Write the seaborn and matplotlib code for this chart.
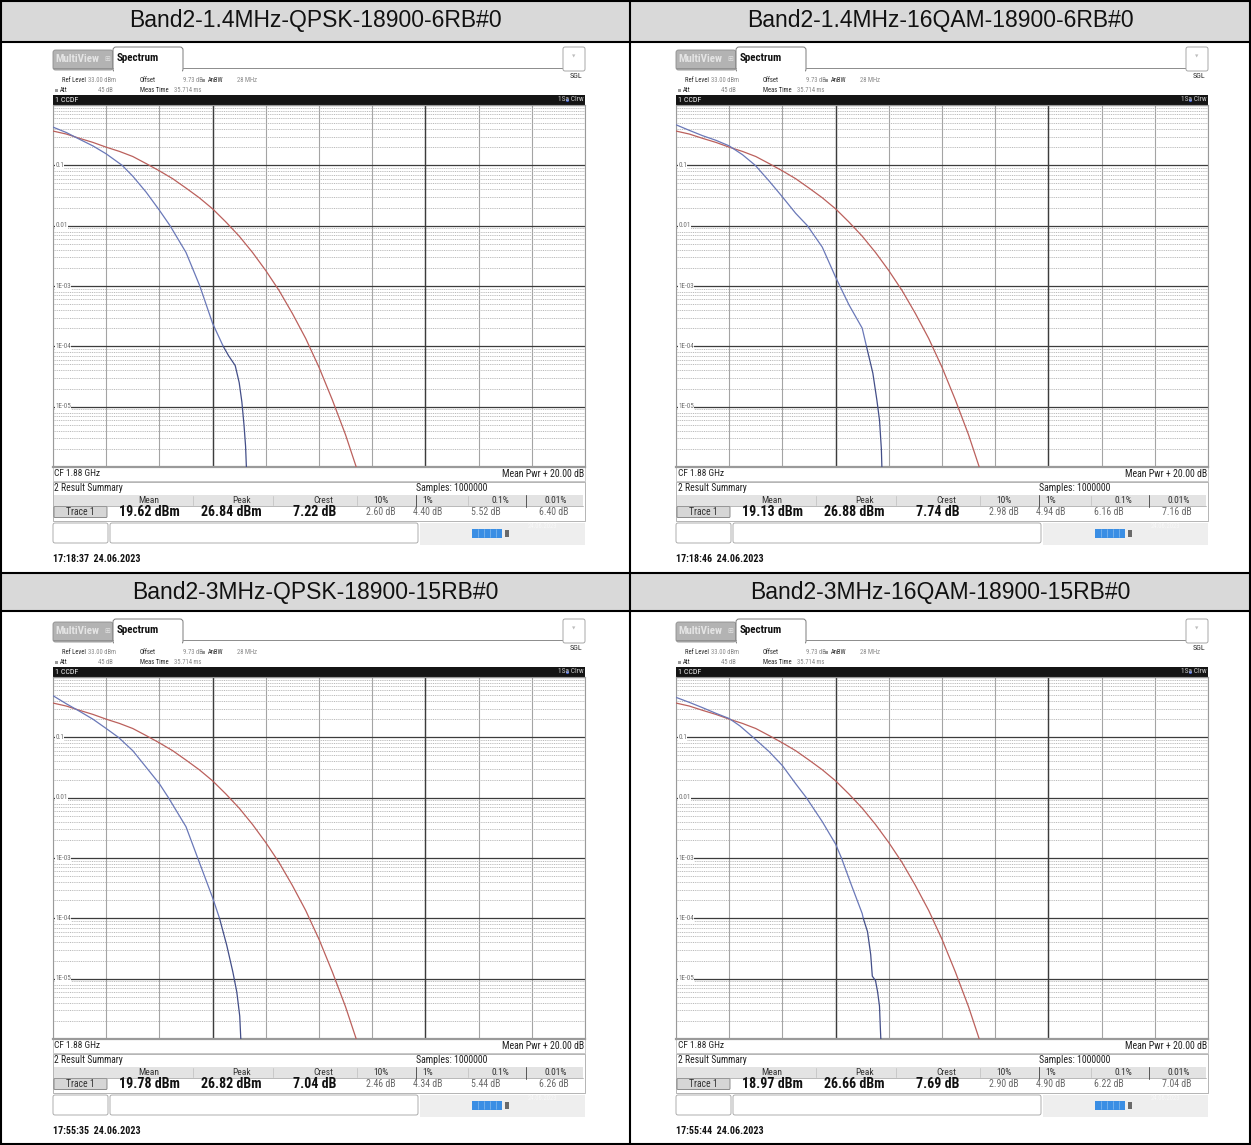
import numpy as np
import pandas as pd
import matplotlib
matplotlib.use("Agg")
import matplotlib.pyplot as plt
import seaborn as sns
from matplotlib import font_manager
from matplotlib.patches import Rectangle, FancyBboxPatch
from matplotlib.ticker import LogLocator, NullFormatter, FixedLocator
from matplotlib.transforms import blended_transform_factory

sns.set_theme(style="white")
plt.rcParams["font.family"] = ["Liberation Sans", "DejaVu Sans"]

# ---------------- chart content ----------------
titles = ["Band2-1.4MHz-QPSK-18900-6RB#0", "Band2-1.4MHz-16QAM-18900-6RB#0",
          "Band2-3MHz-QPSK-18900-15RB#0", "Band2-3MHz-16QAM-18900-15RB#0"]
timestamps = ["17:18:37  24.06.2023", "17:18:46  24.06.2023",
              "17:55:35  24.06.2023", "17:55:44  24.06.2023"]

mean_dbm = [19.62, 19.13, 19.78, 18.97]
peak_dbm = [26.84, 26.88, 26.82, 26.66]
crest_db = [7.22, 7.74, 7.04, 7.69]
p10_db = [2.60, 2.98, 2.46, 2.90]
p1_db = [4.40, 4.94, 4.34, 4.90]
p01_db = [5.52, 6.16, 5.44, 6.22]
p001_db = [6.40, 7.16, 6.26, 7.04]
summary_cols = ["Mean", "Peak", "Crest", "10%", "1%", "0.1%", "0.01%"]
decade_labels = ["0.1", "0.01", "1E-03", "1E-04", "1E-05"]
decade_values = [1e-1, 1e-2, 1e-3, 1e-4, 1e-5]

# Gaussian reference trace (red), shared by all four screens
ref_db = [0.0, 0.5, 1.0, 1.5, 2.0, 2.5, 3.0, 3.5, 4.0, 4.5, 5.0, 5.5,
          6.0, 6.5, 7.0, 7.5, 8.0, 8.5, 9.0, 9.5, 10.0, 10.5, 11.0, 11.4]
ref_ccdf = [0.37, 0.33, 0.28, 0.24, 0.20, 0.17, 0.14, 0.107, 0.081, 0.060, 0.042, 0.029,
            0.019, 0.0115, 0.0067, 0.0036, 0.0018, 8.4e-4, 3.5e-4, 1.35e-4, 4.5e-5, 1.3e-5,
            3.4e-6, 1.0e-6]

# Measured traces (blue)
qpsk14_db = [0.0, 0.5, 1.0, 1.5, 2.0, 2.6, 3.0, 3.5, 4.0, 4.4, 5.0, 5.52, 6.0, 6.4,
             6.6, 6.85, 7.0, 7.1, 7.18, 7.24, 7.27]
qpsk14_ccdf = [0.43, 0.35, 0.27, 0.21, 0.155, 0.10, 0.066, 0.036, 0.018, 0.010, 0.0036,
               0.0010, 2.4e-4, 1.0e-4, 7.0e-5, 4.8e-5, 2.5e-5, 1.2e-5, 5.0e-6, 2.2e-6, 1.0e-6]

qam14_db = [0.0, 0.5, 1.0, 1.5, 2.0, 2.5, 2.98, 3.5, 4.0, 4.5, 4.94, 5.5, 6.0, 6.16,
            6.5, 7.0, 7.16, 7.4, 7.55, 7.65, 7.72, 7.74]
qam14_ccdf = [0.47, 0.38, 0.31, 0.26, 0.21, 0.15, 0.10, 0.055, 0.030, 0.016, 0.010, 0.0044,
              0.0014, 0.0010, 4.9e-4, 2.0e-4, 1.0e-4, 3.6e-5, 1.3e-5, 6.0e-6, 2.0e-6, 1.0e-6]

qpsk3_db = [0.0, 0.5, 1.0, 1.5, 2.0, 2.46, 3.0, 3.5, 4.0, 4.34, 5.0, 5.44, 6.0, 6.26,
            6.53, 6.76, 6.91, 7.02, 7.06]
qpsk3_ccdf = [0.49, 0.36, 0.27, 0.20, 0.14, 0.10, 0.060, 0.032, 0.017, 0.010, 0.0033,
              0.0010, 2.2e-4, 1.0e-4, 3.6e-5, 1.3e-5, 6.0e-6, 2.4e-6, 1.0e-6]

qam3_db = [0.0, 0.5, 1.0, 1.5, 2.0, 2.4, 2.9, 3.5, 4.0, 4.5, 4.9, 5.5, 6.0, 6.22, 6.6,
           7.0, 7.04, 7.2, 7.32, 7.38, 7.5, 7.58, 7.65, 7.68, 7.70]
qam3_ccdf = [0.46, 0.38, 0.31, 0.25, 0.205, 0.155, 0.10, 0.058, 0.034, 0.017, 0.010, 0.0040,
             0.0017, 0.0010, 3.5e-4, 1.2e-4, 1.0e-4, 6.0e-5, 2.5e-5, 1.1e-5, 9.3e-6, 6.0e-6,
             3.5e-6, 1.6e-6, 1.0e-6]

trace_db = [qpsk14_db, qam14_db, qpsk3_db, qam3_db]
trace_ccdf = [qpsk14_ccdf, qam14_ccdf, qpsk3_ccdf, qam3_ccdf]


# ---------------- fonts ----------------
def find_narrow_font():
    candidates = [("Liberation Sans Narrow", "normal", "Narrow"),
                  ("Roboto Condensed", "normal", "Condensed"),
                  ("DejaVu Sans", "condensed", "Condensed"),
                  ("Open Sans Condensed", "normal", "Condensed")]
    for fam, stretch, marker in candidates:
        try:
            path = font_manager.findfont(
                font_manager.FontProperties(family=fam, stretch=stretch),
                fallback_to_default=False)
            if marker.lower() in path.lower():
                return fam, stretch
        except Exception:
            pass
    return None


narrow = find_narrow_font()
if narrow:
    UI, UI_STRETCH = narrow
    GAIN = 1.2
else:
    UI, UI_STRETCH = "Liberation Sans", "normal"
    GAIN = 1.0

# ---------------- canvas in pixel units ----------------
W, H = 1251, 1145
fig = plt.figure(figsize=(W / 100, H / 100), dpi=100)
bg = fig.add_axes([0, 0, 1, 1])
bg.set_xlim(0, W)
bg.set_ylim(H, 0)
bg.axis("off")


def fbox(x0, y0, x1, y1):
    return [x0 / W, 1 - y1 / H, (x1 - x0) / W, (y1 - y0) / H]


def txt(x, y, s, size=4.0, color="#222222", weight="normal", ha="left", family=None, z=5):
    if family is None:
        bg.text(x, y, s, fontsize=size * GAIN, color=color, fontweight=weight, ha=ha,
                va="center", family=UI, fontstretch=UI_STRETCH, zorder=z)
    else:
        bg.text(x, y, s, fontsize=size, color=color, fontweight=weight, ha=ha,
                va="center", family=family, zorder=z)


def rect(x0, y0, x1, y1, fc, ec="none", lw=0.0, z=1):
    bg.add_patch(Rectangle((x0, y0), x1 - x0, y1 - y0, facecolor=fc, edgecolor=ec,
                           linewidth=lw, zorder=z))


def rbox(x0, y0, x1, y1, fc, ec, lw=0.6, r=2.0, z=1):
    bg.add_patch(FancyBboxPatch((x0 + r, y0 + r), x1 - x0 - 2 * r, y1 - y0 - 2 * r,
                                boxstyle=f"round,pad={r}", facecolor=fc, edgecolor=ec,
                                linewidth=lw, zorder=z))


# table frame and header rows
rect(2, 2, 1249, 41, "#d9d9d9", z=0)
rect(2, 574, 1249, 610, "#d9d9d9", z=0)
for yy in [1, 41.5, 573, 611, 1144]:
    bg.plot([0, W], [yy, yy], color="black", lw=1.5, zorder=3, solid_capstyle="butt")
for xx in [1, 630, 1250]:
    bg.plot([xx, xx], [0, H], color="black", lw=1.5, zorder=3, solid_capstyle="butt")

title_pos = [(315, 21), (940, 21), (315, 592), (940, 592)]
for (tx, ty), t in zip(title_pos, titles):
    bg.text(tx, ty, t, fontsize=16.5, ha="center", va="center", color="#111111",
            family="Liberation Sans", zorder=5)

origins = [(0, 0), (623, 0), (0, 572), (623, 572)]

for k, (ox, oy) in enumerate(origins):
    X = lambda v: v + ox
    Y = lambda v: v + oy

    # --- tabs ---
    rbox(X(53), Y(50), X(113), Y(70), "#b3b3b3", "#8c8c8c", lw=0.6, r=2.5, z=2)
    txt(X(55), Y(59), "MultiView", size=6.6, color="#e4e4e4", weight="bold")
    txt(X(104), Y(59), "\u229e", size=5.0, color="#e4e4e4", family="DejaVu Sans")
    rbox(X(113), Y(47), X(183), Y(72), "white", "#7a7a7a", lw=0.7, r=3.0, z=2)
    rect(X(113.6), Y(67), X(182.4), Y(73), "white", z=3)
    txt(X(117), Y(58), "Spectrum", size=6.6, color="#111111", weight="bold")
    bg.plot([X(53), X(113)], [Y(68), Y(68)], color="#8c8c8c", lw=0.6, zorder=3)
    bg.plot([X(183), X(562)], [Y(68), Y(68)], color="#7a7a7a", lw=0.6, zorder=3)
    rbox(X(563), Y(47), X(585), Y(71), "white", "#9a9a9a", lw=0.6, r=2.0, z=2)
    txt(X(574), Y(57), "\u25bc", size=3.2, color="#bdbdbd", ha="center", family="DejaVu Sans")

    # --- settings lines ---
    txt(X(62), Y(80), "Ref Level", color="#2a2a2a")
    txt(X(88), Y(80), "33.00 dBm", color="#8a8a8a")
    txt(X(140), Y(80), "Offset", color="#2a2a2a")
    txt(X(183), Y(80), "9.73 dB", color="#8a8a8a")
    rect(X(202), Y(78.5), X(205), Y(81.5), "#9a9a9a", z=4)
    txt(X(208), Y(80), "AnBW", color="#2a2a2a")
    txt(X(237), Y(80), "28 MHz", color="#8a8a8a")
    rect(X(55), Y(88.5), X(58), Y(91.5), "#9a9a9a", z=4)
    txt(X(60), Y(90), "Att", color="#2a2a2a")
    txt(X(113), Y(90), "45 dB", color="#8a8a8a", ha="right")
    txt(X(140), Y(90), "Meas Time", color="#2a2a2a")
    txt(X(174), Y(90), "35.714 ms", color="#8a8a8a")
    txt(X(582), Y(76), "SGL", color="#2a2a2a", ha="right", size=4.8)

    # --- window title bar ---
    rect(X(53), Y(95), X(585), Y(104.5), "#141414", z=2)
    txt(X(55), Y(99.8), "1 CCDF", color="#f0f0f0", size=4.8)
    bg.scatter([X(567)], [Y(99.8)], s=5, color="#3c5cd0", zorder=5, linewidths=0)
    txt(X(584), Y(99.8), "1Sa Clrw", color="#c8c8c8", size=4.4, ha="right")

    # --- CCDF diagram ---
    ax = fig.add_axes(fbox(X(53), Y(105), X(585), Y(467)))
    ax.set_facecolor("white")
    ax.set_yscale("log")
    ax.set_xlim(0, 20)
    ax.set_ylim(1e-6, 1)
    ax.xaxis.set_major_locator(FixedLocator(np.arange(0, 21, 2)))
    ax.yaxis.set_major_locator(LogLocator(base=10, numticks=10))
    ax.yaxis.set_minor_locator(LogLocator(base=10, subs=np.arange(2, 10), numticks=10))
    ax.yaxis.set_minor_formatter(NullFormatter())
    ax.grid(which="major", axis="x", color="#a4a4a4", lw=0.8)
    ax.grid(which="major", axis="y", color="#3c3c3c", lw=0.9)
    ax.grid(which="minor", axis="y", color="#b0b0b0", lw=0.6, ls=(0, (1.2, 1.0)))
    for xv in (6, 14):
        ax.axvline(xv, color="#3c3c3c", lw=1.0, zorder=1)
    ax.tick_params(which="both", length=0, labelleft=False, labelbottom=False)
    for sp in ax.spines.values():
        sp.set_color("#9a9a9a")
        sp.set_linewidth(0.8)
    ax.spines["bottom"].set_linewidth(1.6)
    tr = blended_transform_factory(ax.transAxes, ax.transData)
    for lab, val in zip(decade_labels, decade_values):
        ax.text(0.004, val, lab, transform=tr, fontsize=4.3 * GAIN, color="#707070",
                va="center", ha="left", family=UI, fontstretch=UI_STRETCH, zorder=4,
                bbox=dict(facecolor="white", edgecolor="none", pad=0.3))

    ref = pd.DataFrame({"dB": ref_db, "ccdf": ref_ccdf})
    sns.lineplot(data=ref, x="dB", y="ccdf", ax=ax, color="#bb605c", linewidth=0.9,
                 estimator=None, sort=False, legend=False, zorder=3)
    meas = pd.DataFrame({"dB": trace_db[k], "ccdf": trace_ccdf[k]})
    head = meas[meas["ccdf"] >= 1e-4]
    tail = meas[meas["ccdf"] <= 1e-4]
    sns.lineplot(data=head, x="dB", y="ccdf", ax=ax, color="#6a78b8", linewidth=0.9,
                 estimator=None, sort=False, legend=False, zorder=4)
    sns.lineplot(data=tail, x="dB", y="ccdf", ax=ax, color="#434e88", linewidth=0.9,
                 estimator=None, sort=False, legend=False, zorder=4)
    ax.set_xlabel("")
    ax.set_ylabel("")

    # --- footer of diagram ---
    rect(X(53), Y(467), X(585), Y(481), "white", ec="#b0b0b0", lw=0.5, z=2)
    txt(X(54.5), Y(474), "CF 1.88 GHz", size=5.6, color="#222222")
    txt(X(584), Y(474), "Mean Pwr + 20.00 dB", size=5.9, color="#222222", ha="right")

    # --- result summary ---
    rect(X(53), Y(482), X(585), Y(521), "white", ec="#a8a8a8", lw=0.6, z=2)
    txt(X(54.5), Y(488), "2 Result Summary", size=5.8)
    txt(X(416), Y(488), "Samples: 1000000", size=5.9)
    rect(X(54), Y(495), X(583), Y(506), "#e3e3e3", z=3)
    bg.plot([X(54), X(583)], [Y(506), Y(506)], color="#9c9c9c", lw=0.5, zorder=4)
    for sx in (193, 273, 357, 468):
        bg.plot([X(sx), X(sx)], [Y(496), Y(505)], color="#c4c4c4", lw=0.6, zorder=4)
    for sx in (416, 526):
        bg.plot([X(sx), X(sx)], [Y(495), Y(507)], color="#555555", lw=0.7, zorder=4)
    head_x = [149, 242, 323, 381, 428, 500, 556]
    for hx, lab in zip(head_x, summary_cols):
        txt(X(hx), Y(500.5), lab, size=5.7, color="#333333", ha="center")

    rbox(X(54), Y(506.5), X(107), Y(517.5), "#d6d6d6", "#7c7c7c", lw=0.6, r=1.0, z=3)
    txt(X(80.5), Y(512), "Trace 1", size=5.8, color="#333333", ha="center")
    bold_vals = [f"{mean_dbm[k]:.2f} dBm", f"{peak_dbm[k]:.2f} dBm", f"{crest_db[k]:.2f} dB"]
    for vx, s in zip([149, 231, 315], bold_vals):
        txt(X(vx), Y(511.5), s, size=8.4, color="#111111", weight="bold", ha="center")
    pct_vals = [p10_db[k], p1_db[k], p01_db[k], p001_db[k]]
    for vx, v in zip([381, 428, 486, 554], pct_vals):
        txt(X(vx), Y(512), f"{v:.2f} dB", size=5.9, color="#6a6a6a", ha="center")

    # --- status strip ---
    rbox(X(53), Y(523), X(108), Y(543), "white", "#a0a0a0", lw=0.6, r=2.0, z=2)
    rbox(X(110), Y(523), X(418), Y(543), "white", "#a0a0a0", lw=0.6, r=2.0, z=2)
    rect(X(420), Y(523), X(585), Y(545), "#eeeeee", z=1)
    rect(X(472), Y(528.5), X(502), Y(537.5), "#3a8ee4", z=3)
    for sx in (478, 484, 490, 496):
        bg.plot([X(sx), X(sx)], [Y(529), Y(537)], color="#9cc8f2", lw=0.4, zorder=4)
    rect(X(505), Y(529.5), X(509), Y(536.5), "#6a6a6a", z=3)
    txt(X(528), Y(527), "24.06.2023", size=4.0, color="#f8f8f8")

    # --- time stamp ---
    txt(X(53), Y(559), timestamps[k], size=6.0, color="#111111", weight="bold")

fig.savefig("out.png", dpi=100)
